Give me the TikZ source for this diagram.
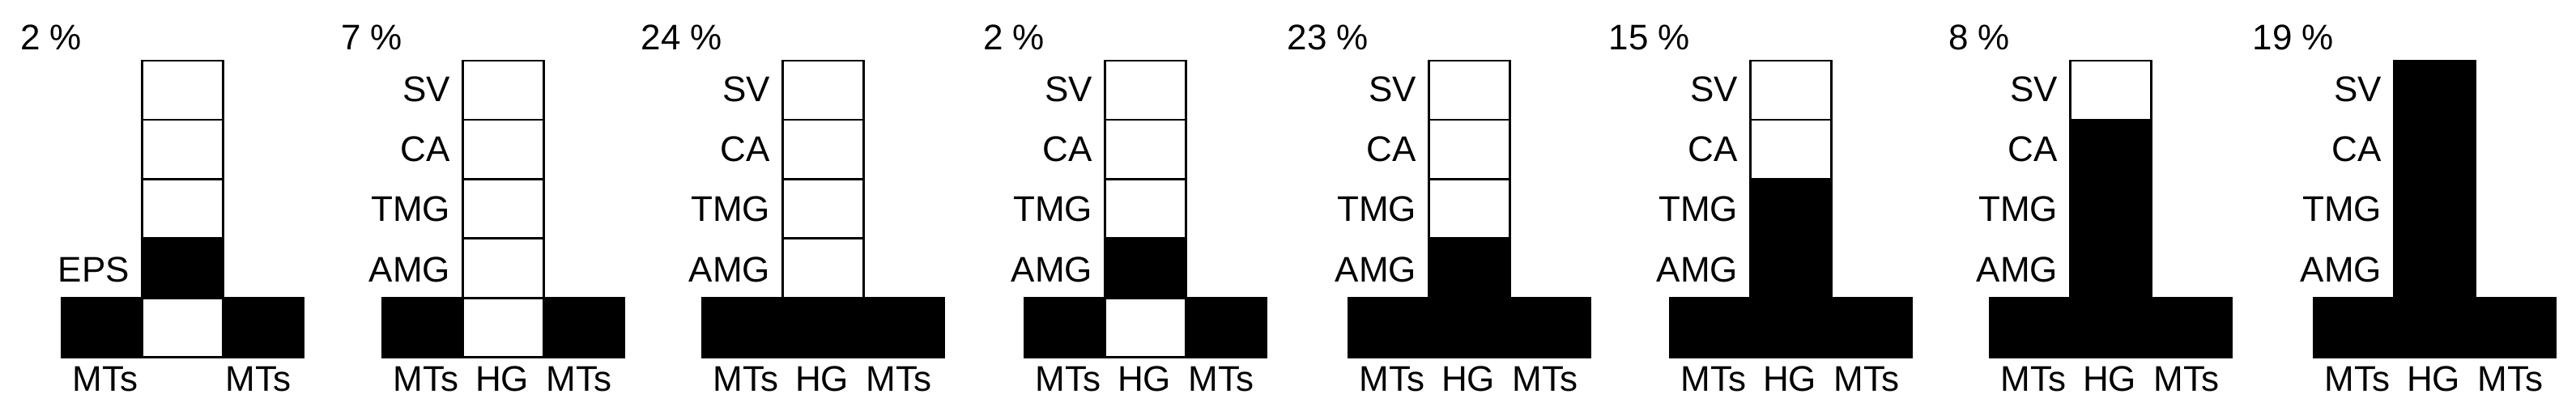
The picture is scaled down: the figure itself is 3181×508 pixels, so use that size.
\documentclass[tikz,border=0pt]{standalone}
\usepackage{fontspec}
\setmainfont{Liberation Sans}
\begin{document}
\begin{tikzpicture}[x=0.5pt,y=-0.5pt,
  cell/.style={draw=black, line width=1.3pt, minimum width=49.85pt, minimum height=36.7pt, inner sep=0pt, outer sep=0pt, anchor=center},
  txt/.style={font=\fontsize{22}{26}\selectfont, inner sep=0pt, outer sep=0pt, text=black}]
\useasboundingbox (0,0) rectangle (3181,508);
% panel 1
\node[cell, fill=white] (c1-1) at (76+149.5,111.6) {};
\node[cell, fill=white] (c1-2) at (76+149.5,184.9) {};
\node[cell, fill=white] (c1-3) at (76+149.5,258.1) {};
\node[cell, fill=black] (c1-4) at (76+149.5,331.4) {};
\node[cell, fill=black] (c1-5) at (76+50,405) {};
\node[cell, fill=white] (c1-6) at (76+149.5,405) {};
\node[cell, fill=black] (c1-7) at (76+249,405) {};
\node[txt, anchor=base east] (l1-4) at (76+84,348) {EPS};
\node[txt, anchor=base east] (p1) at (76+25,62) {2 \%};
\node[txt, anchor=base] (bl1) at (76+54,483) {MTs};
\node[txt, anchor=base] (br1) at (76+243,483) {MTs};
% panels 2-8
\foreach \n/\bx/\pct/\fa/\fb/\fc/\fd/\fe in {
  2/472/7 \%/white/white/white/white/white,
  3/867/24 \%/white/white/white/white/black,
  4/1265/2 \%/white/white/white/black/white,
  5/1665/23 \%/white/white/white/black/black,
  6/2062/15 \%/white/white/black/black/black,
  7/2457/8 \%/white/black/black/black/black,
  8/2857/19 \%/black/black/black/black/black}{
  \node[cell, fill=\fa] (c\n-1) at (\bx+149.5,111.6) {};
  \node[cell, fill=\fb] (c\n-2) at (\bx+149.5,184.9) {};
  \node[cell, fill=\fc] (c\n-3) at (\bx+149.5,258.1) {};
  \node[cell, fill=\fd] (c\n-4) at (\bx+149.5,331.4) {};
  \node[cell, fill=black] (c\n-5) at (\bx+50,405) {};
  \node[cell, fill=\fe] (c\n-6) at (\bx+149.5,405) {};
  \node[cell, fill=black] (c\n-7) at (\bx+249,405) {};
  \node[txt, anchor=base east] (l\n-1) at (\bx+84,126) {SV};
  \node[txt, anchor=base east] (l\n-2) at (\bx+84,199) {CA};
  \node[txt, anchor=base east] (l\n-3) at (\bx+84,273) {TMG};
  \node[txt, anchor=base east] (l\n-4) at (\bx+84,348) {AMG};
  \node[txt, anchor=base east] (p\n) at (\bx+25,62) {\pct};
  \node[txt, anchor=base] (bl\n) at (\bx+54,483) {MTs};
  \node[txt, anchor=base] (bh\n) at (\bx+148,483) {HG};
  \node[txt, anchor=base] (br\n) at (\bx+243,483) {MTs};
}
\end{tikzpicture}
\end{document}
